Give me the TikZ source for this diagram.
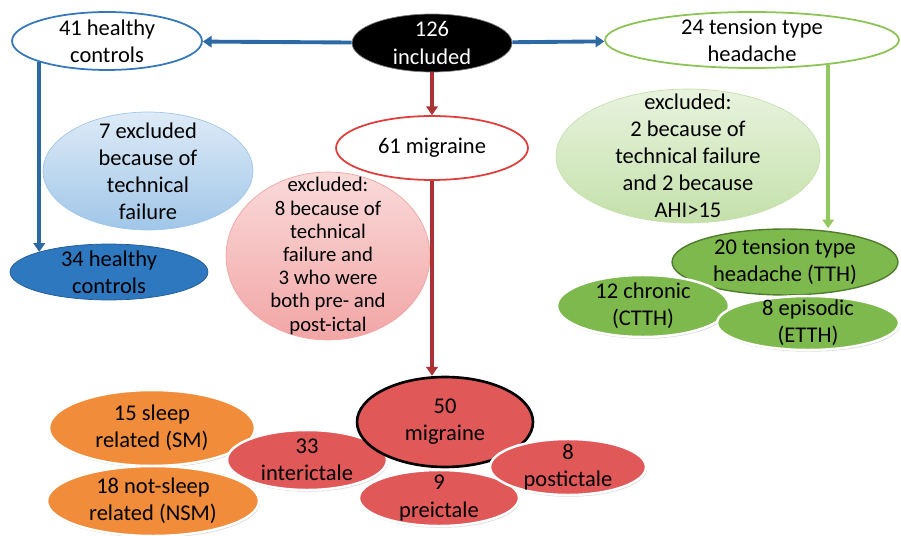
\documentclass[tikz,border=0pt]{standalone}
\usepackage{fontspec}
\setmainfont{Carlito}
\usetikzlibrary{shapes.geometric,arrows.meta,shadows}

\definecolor{hcblue}{RGB}{52,120,185}
\definecolor{arrblue}{RGB}{45,105,165}
\definecolor{arrred}{RGB}{170,50,50}
\definecolor{arrgreen}{RGB}{145,200,95}
\definecolor{migred}{RGB}{225,60,60}
\definecolor{tthgreen}{RGB}{140,195,85}
\definecolor{ctrlblue}{RGB}{46,120,192}
\definecolor{ctrlline}{RGB}{35,90,150}
\definecolor{redfill}{RGB}{224,88,88}
\definecolor{orangefill}{RGB}{240,140,58}
\definecolor{greenfill}{RGB}{125,185,76}
\definecolor{greenline}{RGB}{80,125,45}
\definecolor{lbtop}{RGB}{222,235,247}
\definecolor{lbbot}{RGB}{160,198,232}
\definecolor{pktop}{RGB}{250,218,218}
\definecolor{pkbot}{RGB}{242,165,165}
\definecolor{lgtop}{RGB}{232,243,222}
\definecolor{lgbot}{RGB}{196,224,170}

\begin{document}
\begin{tikzpicture}[x=0.02cm,y=-0.02cm,
    font=\fontsize{12.8}{15.4}\selectfont,
    oval/.style 2 args={ellipse, inner sep=0pt, minimum width=#1*0.04cm, minimum height=#2*0.04cm},
    txt/.style={label={[align=center]center:{#1}}},
    smalltxt/.style={label={[align=center,font=\fontsize{11.8}{13.2}\selectfont]center:{#1}}},
    wtxt/.style={label={[align=center,text=white]center:{#1}}},
    lifted/.style={draw=white, line width=1.4pt, drop shadow={shadow xshift=0.6pt, shadow yshift=-1pt, opacity=0.3}},
    conn/.style={line width=2.2pt, -{Triangle[length=5pt,width=6.5pt]}}]

    \useasboundingbox (0,0) rectangle (901,536);

    \node[oval={95}{29}, draw=hcblue, line width=1pt, fill=white, txt={41 healthy\\controls}] (hc41) at (107,41) {};
    \node[oval={80}{29}, draw=gray, fill=black, wtxt={126\\included}] (inc) at (432,43) {};
    \node[oval={147}{28}, draw=tthgreen, line width=1pt, fill=white, txt={24 tension type\\headache}] (tth24) at (752,40) {};
    \node[oval={96}{32}, draw=migred, line width=1pt, fill=white, txt={61 migraine}] (mig61) at (432,148) {};

    \node[oval={105}{59}, draw=lbbot, top color=lbtop, bottom color=lbbot, txt={7 excluded\\because of\\technical\\failure}] (exclH) at (148,171) {};
    \node[oval={99}{28}, draw=ctrlline, fill=ctrlblue, txt={34 healthy\\controls}] (hc34) at (109,272) {};
    \node[oval={102}{84}, draw=pkbot, top color=pktop, bottom color=pkbot, smalltxt={excluded:\\8 because of\\technical\\failure and\\3 who were\\both pre- and\\post-ictal}] (exclM) at (328,256) {};
    \node[oval={132}{67}, draw=lgbot, top color=lgtop, bottom color=lgbot, txt={excluded:\\2 because of\\technical failure\\and 2 because\\AHI>15}] (exclT) at (688,156) {};

    \node[oval={113}{33}, draw=greenline, line width=0.8pt, fill=greenfill, txt={20 tension type\\headache (TTH)}] (tth20) at (785,262) {};
    \node[oval={86}{31}, lifted, fill=greenfill, txt={12 chronic\\(CTTH)}] (chr12) at (643,306) {};
    \node[oval={91}{27}, lifted, fill=greenfill, txt={8 episodic\\(ETTH)}] (epi8) at (808,323) {};

    \node[oval={103}{38}, lifted, fill=orangefill, txt={15 sleep\\related (SM)}] (sm15) at (152,428) {};
    \node[oval={106}{35}, lifted, fill=orangefill, txt={18 not-sleep\\related (NSM)}] (nsm18) at (153,501) {};

    \node[oval={80}{30}, lifted, fill=redfill, txt={33\\interictale}] (int33) at (307,460) {};
    \node[oval={88}{45}, draw=black, line width=1.5pt, fill=redfill, txt={50\\migraine}] (mig50) at (445,422) {};
    \node[oval={80}{28}, lifted, fill=redfill, txt={9\\preictale}] (pre9) at (439,498) {};
    \node[oval={78}{28}, lifted, fill=redfill, txt={8\\postictale}] (post8) at (568,467) {};

    \draw[conn, arrblue] (inc) -- (hc41);
    \draw[conn, arrblue] (inc) -- (tth24);
    \draw[conn, arrred] (inc) -- (mig61);
    \draw[conn, arrred] (mig61) -- (mig61 |- mig50.north);
    \draw[conn, arrblue] (hc41.south west) -- (hc41.south west |- hc34.north west);
    \draw[conn, arrgreen] (tth24.342) -- (tth24.342 |- tth20.north);
\end{tikzpicture}
\end{document}
